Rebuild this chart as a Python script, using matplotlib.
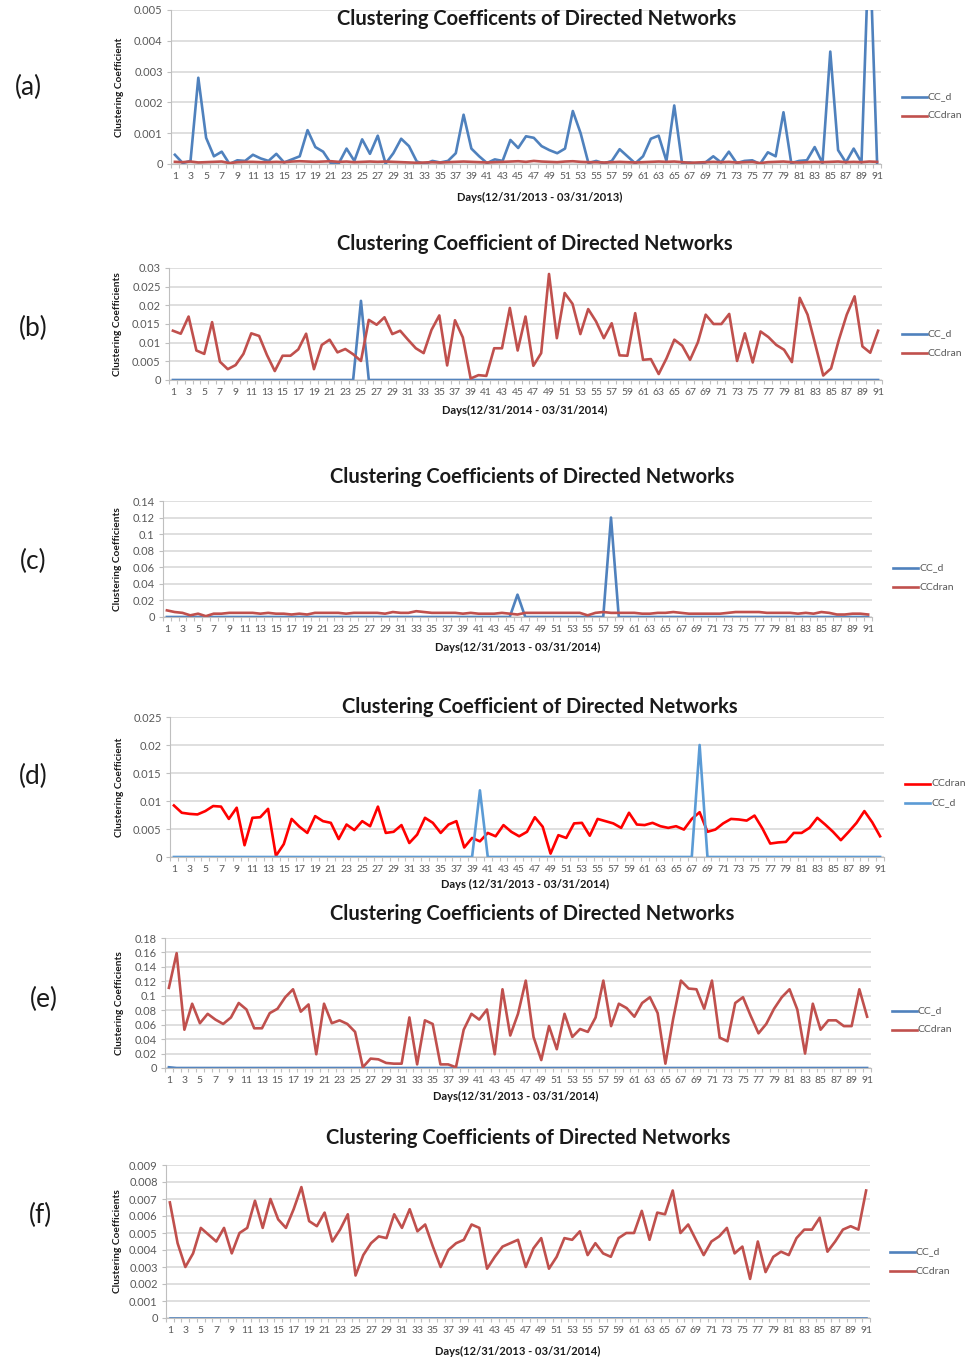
import matplotlib
matplotlib.use("Agg")
import matplotlib.pyplot as plt
from matplotlib.lines import Line2D
from matplotlib.ticker import FixedLocator, FuncFormatter

plt.rcParams['font.family'] = ['Lato', 'DejaVu Sans']

days = list(range(1, 92))
odd_days = list(range(1, 92, 2))

# ---- panel (a): 12/31/2013 - 03/31/2013 ----
a_cc_d = [0.0003, 0.00003, 0.0001, 0.0028, 0.00085, 0.00025, 0.0004, 0.0, 0.00012, 0.0001,
          0.0003, 0.00018, 0.0001, 0.00033, 0.00005, 0.00015, 0.00025, 0.0011, 0.00055, 0.0004,
          0.00002, 0.00002, 0.0005, 0.0001, 0.0008, 0.00033, 0.00092, 0.00001, 0.00035, 0.00082,
          0.00058, 0.00008, 0.0, 0.0001, 0.00005, 0.0001, 0.00035, 0.0016, 0.0005, 0.00025,
          0.00003, 0.00015, 0.0001, 0.00078, 0.00052, 0.0009, 0.00085, 0.00058, 0.00045, 0.00035,
          0.0005, 0.00172, 0.001, 0.00003, 0.0001, 0.00002, 0.0001, 0.00048, 0.00025, 0.00002,
          0.00025, 0.00082, 0.00092, 0.0001, 0.0019, 0.00003, 0.00005, 0.0, 0.00005, 0.00025,
          0.00005, 0.0004, 0.00003, 0.0001, 0.00012, 0.0, 0.00038, 0.00025, 0.00168, 0.00003,
          0.0001, 0.00012, 0.00055, 0.00003, 0.00365, 0.00045, 0.00005, 0.0005, 0.00005, 0.0075,
          0.00003]
a_ccdran = [0.00007, 0.00006, 0.00008, 0.00005, 0.00006, 0.00007, 0.00008, 0.00003, 0.00006, 0.00007,
            0.00007, 0.00006, 0.00006, 0.00007, 0.00006, 0.00008, 0.00009, 0.00008, 0.00007, 0.00008,
            0.00009, 0.00007, 0.00008, 0.00006, 0.00007, 0.00008, 0.00007, 0.00008, 0.00007, 0.00006,
            0.00005, 0.00004, 0.00005, 0.00006, 0.00005, 0.00006, 0.00007, 0.00008, 0.00007, 0.00006,
            0.00005, 0.00006, 0.00007, 0.00008, 0.00009, 0.00007, 0.0001, 0.00008, 0.00007, 0.00006,
            0.00008, 0.00009, 0.00007, 0.00006, 0.00006, 0.00005, 0.00006, 0.00007, 0.00006, 0.00005,
            0.00006, 0.00007, 0.00008, 0.00007, 0.00008, 0.00006, 0.00004, 0.00005, 0.00006, 0.00007,
            0.00006, 0.00007, 0.00005, 0.00006, 0.00007, 0.00003, 0.00006, 0.00007, 0.00008, 0.00006,
            0.00005, 0.00006, 0.00007, 0.00006, 0.00007, 0.00008, 0.00006, 0.00007, 0.00006, 0.00008,
            0.00007]
a_yticks = [0, 0.001, 0.002, 0.003, 0.004, 0.005]

# ---- panel (b): 12/31/2014 - 03/31/2014 ----
b_cc_d = [0.0, 0.0, 0.0, 0.0, 0.0, 0.0, 0.0, 0.0, 0.0, 0.0,
          0.0, 0.0, 0.0, 0.0, 0.0, 0.0, 0.0, 0.0, 0.0, 0.0,
          0.0, 0.0, 0.0, 0.0, 0.0212, 0.0, 0.0, 0.0, 0.0, 0.0,
          0.0, 0.0, 0.0, 0.0, 0.0, 0.0, 0.0, 0.0, 0.0, 0.0,
          0.0, 0.0, 0.0, 0.0, 0.0, 0.0, 0.0, 0.0, 0.0, 0.0,
          0.0, 0.0, 0.0, 0.0, 0.0, 0.0, 0.0, 0.0, 0.0, 0.0,
          0.0, 0.0, 0.0, 0.0, 0.0, 0.0, 0.0, 0.0, 0.0, 0.0,
          0.0, 0.0, 0.0, 0.0, 0.0, 0.0, 0.0, 0.0, 0.0, 0.0,
          0.0, 0.0, 0.0, 0.0, 0.0, 0.0, 0.0, 0.0, 0.0, 0.0,
          0.0]
b_ccdran = [0.0132, 0.0124, 0.017, 0.0079, 0.007, 0.0155, 0.0049, 0.0029, 0.004, 0.007,
            0.0125, 0.0118, 0.0067, 0.0024, 0.0065, 0.0065, 0.0082, 0.0124, 0.0029, 0.0094,
            0.0108, 0.0074, 0.0083, 0.0069, 0.0051, 0.0161, 0.0148, 0.0168, 0.0123, 0.0132,
            0.0108, 0.0085, 0.0072, 0.0134, 0.0173, 0.0039, 0.016, 0.0114, 0.0004, 0.0013,
            0.0011, 0.0085, 0.0085, 0.0193, 0.0079, 0.017, 0.0038, 0.0072, 0.0284, 0.0112,
            0.0233, 0.0204, 0.0123, 0.019, 0.0157, 0.0112, 0.0152, 0.0066, 0.0065, 0.0179,
            0.0054, 0.0056, 0.0016, 0.0058, 0.0108, 0.0092, 0.0054, 0.0101, 0.0175, 0.015,
            0.015, 0.0177, 0.0051, 0.0125, 0.0047, 0.013, 0.0115, 0.0094, 0.0081, 0.0048,
            0.022, 0.0175, 0.0094, 0.0012, 0.0031, 0.0108, 0.0175, 0.0224, 0.009, 0.0073,
            0.0132]
b_yticks = [0, 0.005, 0.01, 0.015, 0.02, 0.025, 0.03]

# ---- panel (c) ----
c_cc_d = [0.0, 0.0, 0.0, 0.0, 0.0, 0.0, 0.0, 0.0, 0.0, 0.0,
          0.0, 0.0, 0.0, 0.0, 0.0, 0.0, 0.0, 0.0, 0.0, 0.0,
          0.0, 0.0, 0.0, 0.0, 0.0, 0.0, 0.0, 0.0, 0.0, 0.0,
          0.0, 0.0, 0.0, 0.0, 0.0, 0.0, 0.0, 0.0, 0.0, 0.0,
          0.0, 0.0, 0.0, 0.0, 0.0, 0.027, 0.0, 0.0, 0.0, 0.0,
          0.0, 0.0, 0.0, 0.0, 0.0, 0.0, 0.0, 0.12, 0.0, 0.0,
          0.0, 0.0, 0.0, 0.0, 0.0, 0.0, 0.0, 0.0, 0.0, 0.0,
          0.0, 0.0, 0.0, 0.0, 0.0, 0.0, 0.0, 0.0, 0.0, 0.0,
          0.0, 0.0, 0.0, 0.0, 0.0, 0.0, 0.0, 0.0, 0.0, 0.0,
          0.0]
c_ccdran = [0.008, 0.006, 0.005, 0.002, 0.004, 0.001, 0.004, 0.004, 0.005, 0.005,
            0.005, 0.005, 0.004, 0.005, 0.004, 0.004, 0.003, 0.004, 0.003, 0.005,
            0.005, 0.005, 0.005, 0.004, 0.005, 0.005, 0.005, 0.005, 0.004, 0.006,
            0.005, 0.005, 0.007, 0.006, 0.005, 0.005, 0.005, 0.005, 0.004, 0.005,
            0.004, 0.004, 0.004, 0.005, 0.004, 0.003, 0.005, 0.005, 0.005, 0.005,
            0.005, 0.005, 0.005, 0.005, 0.002, 0.005, 0.006, 0.005, 0.005, 0.005,
            0.005, 0.004, 0.004, 0.005, 0.005, 0.006, 0.005, 0.004, 0.004, 0.004,
            0.004, 0.004, 0.005, 0.006, 0.006, 0.006, 0.006, 0.005, 0.005, 0.005,
            0.005, 0.004, 0.005, 0.004, 0.006, 0.005, 0.003, 0.003, 0.004, 0.004,
            0.003]
c_yticks = [0, 0.02, 0.04, 0.06, 0.08, 0.1, 0.12, 0.14]

# ---- panel (d) ----
d_cc_d = [0.0, 0.0, 0.0, 0.0, 0.0, 0.0, 0.0, 0.0, 0.0, 0.0,
          0.0, 0.0, 0.0, 0.0, 0.0, 0.0, 0.0, 0.0, 0.0, 0.0,
          0.0, 0.0, 0.0, 0.0, 0.0, 0.0, 0.0, 0.0, 0.0, 0.0,
          0.0, 0.0, 0.0, 0.0, 0.0, 0.0, 0.0, 0.0, 0.0, 0.0119,
          0.0, 0.0, 0.0, 0.0, 0.0, 0.0, 0.0, 0.0, 0.0, 0.0,
          0.0, 0.0, 0.0, 0.0, 0.0, 0.0, 0.0, 0.0, 0.0, 0.0,
          0.0, 0.0, 0.0, 0.0, 0.0, 0.0, 0.0, 0.02, 0.0, 0.0,
          0.0, 0.0, 0.0, 0.0, 0.0, 0.0, 0.0, 0.0, 0.0, 0.0,
          0.0, 0.0, 0.0, 0.0, 0.0, 0.0, 0.0, 0.0, 0.0, 0.0,
          0.0]
d_ccdran = [0.0092, 0.0079, 0.0077, 0.0076, 0.0082, 0.0091, 0.009, 0.0068, 0.0088, 0.0021,
            0.007, 0.0071, 0.0086, 0.0002, 0.0023, 0.0068, 0.0054, 0.0043, 0.0073, 0.0064,
            0.0061, 0.0032, 0.0058, 0.0048, 0.0064, 0.0055, 0.009, 0.0043, 0.0045, 0.0057,
            0.0025, 0.004, 0.007, 0.0061, 0.0043, 0.0058, 0.0064, 0.0017, 0.0034, 0.0028,
            0.0043, 0.0037, 0.0057, 0.0045, 0.0037, 0.0045, 0.0071, 0.0054, 0.0006, 0.0039,
            0.0034, 0.006, 0.0061, 0.0038, 0.0068, 0.0064, 0.006, 0.0052, 0.0079, 0.0058,
            0.0057, 0.0061, 0.0055, 0.0052, 0.0055, 0.0049, 0.0068, 0.008, 0.0045, 0.0049,
            0.006, 0.0068, 0.0067, 0.0065, 0.0074, 0.0051, 0.0024, 0.0026, 0.0027, 0.0043,
            0.0043, 0.0052, 0.007, 0.0058, 0.0045, 0.003, 0.0045, 0.0061, 0.0082, 0.0062,
            0.0037]
d_yticks = [0, 0.005, 0.01, 0.015, 0.02, 0.025]

# ---- panel (e) ----
e_cc_d = [0.001, 0.0, 0.0, 0.0, 0.0, 0.0, 0.0, 0.0, 0.0, 0.0,
          0.0, 0.0, 0.0, 0.0, 0.0, 0.0, 0.0, 0.0, 0.0, 0.0,
          0.0, 0.0, 0.0, 0.0, 0.0, 0.0, 0.0, 0.0, 0.0, 0.0,
          0.0, 0.0, 0.0, 0.0, 0.0, 0.0, 0.0, 0.0, 0.0, 0.0,
          0.0, 0.0, 0.0, 0.0, 0.0, 0.0, 0.0, 0.0, 0.0, 0.0,
          0.0, 0.0, 0.0, 0.0, 0.0, 0.0, 0.0, 0.0, 0.0, 0.0,
          0.0, 0.0, 0.0, 0.0, 0.0, 0.0, 0.0, 0.0, 0.0, 0.0,
          0.0, 0.0, 0.0, 0.0, 0.0, 0.0, 0.0, 0.0, 0.0, 0.0,
          0.0, 0.0, 0.0, 0.0, 0.0, 0.0, 0.0, 0.0, 0.0, 0.0,
          0.0]
e_ccdran = [0.111, 0.159, 0.053, 0.089, 0.062, 0.075, 0.067, 0.061, 0.07, 0.09,
            0.081, 0.055, 0.055, 0.076, 0.082, 0.098, 0.109, 0.078, 0.088, 0.019,
            0.089, 0.062, 0.066, 0.061, 0.05, 0.001, 0.013, 0.012, 0.007, 0.006,
            0.006, 0.07, 0.005, 0.066, 0.061, 0.005, 0.005, 0.001, 0.053, 0.075,
            0.067, 0.081, 0.019, 0.109, 0.045, 0.075, 0.121, 0.043, 0.011, 0.058,
            0.026, 0.075, 0.043, 0.054, 0.05, 0.07, 0.121, 0.058, 0.089, 0.083,
            0.071, 0.09, 0.098, 0.076, 0.006, 0.068, 0.121, 0.11, 0.109, 0.082,
            0.121, 0.042, 0.037, 0.09, 0.098, 0.072, 0.048, 0.061, 0.082, 0.098,
            0.109, 0.081, 0.02, 0.089, 0.053, 0.066, 0.066, 0.058, 0.058, 0.109,
            0.071]
e_yticks = [0, 0.02, 0.04, 0.06, 0.08, 0.1, 0.12, 0.14, 0.16, 0.18]

# ---- panel (f) ----
f_cc_d = [0.0, 0.0, 0.0, 0.0, 0.0, 0.0, 0.0, 0.0, 0.0, 0.0,
          0.0, 0.0, 0.0, 0.0, 0.0, 0.0, 0.0, 0.0, 0.0, 0.0,
          0.0, 0.0, 0.0, 0.0, 0.0, 0.0, 0.0, 0.0, 0.0, 0.0,
          0.0, 0.0, 0.0, 0.0, 0.0, 0.0, 0.0, 0.0, 0.0, 0.0,
          0.0, 0.0, 0.0, 0.0, 0.0, 0.0, 0.0, 0.0, 0.0, 0.0,
          0.0, 0.0, 0.0, 0.0, 0.0, 0.0, 0.0, 0.0, 0.0, 0.0,
          0.0, 0.0, 0.0, 0.0, 0.0, 0.0, 0.0, 0.0, 0.0, 0.0,
          0.0, 0.0, 0.0, 0.0, 0.0, 0.0, 0.0, 0.0, 0.0, 0.0,
          0.0, 0.0, 0.0, 0.0, 0.0, 0.0, 0.0, 0.0, 0.0, 0.0,
          0.0]
f_ccdran = [0.0068, 0.0044, 0.003, 0.0038, 0.0053, 0.0049, 0.0045, 0.0053, 0.0038, 0.005,
            0.0053, 0.0069, 0.0053, 0.007, 0.0058, 0.0053, 0.0064, 0.0077, 0.0057, 0.0054,
            0.0062, 0.0045, 0.0052, 0.0061, 0.0025, 0.0037, 0.0044, 0.0048, 0.0047, 0.0061,
            0.0053, 0.0064, 0.0051, 0.0055, 0.0042, 0.003, 0.004, 0.0044, 0.0046, 0.0055,
            0.0053, 0.0029, 0.0036, 0.0042, 0.0044, 0.0046, 0.003, 0.0041, 0.0047, 0.0029,
            0.0036, 0.0047, 0.0046, 0.0051, 0.0037, 0.0044, 0.0038, 0.0036, 0.0047, 0.005,
            0.005, 0.0063, 0.0046, 0.0062, 0.0061, 0.0075, 0.005, 0.0055, 0.0046, 0.0037,
            0.0045, 0.0048, 0.0053, 0.0038, 0.0042, 0.0023, 0.0045, 0.0027, 0.0036, 0.0039,
            0.0037, 0.0047, 0.0052, 0.0052, 0.0059, 0.0039, 0.0045, 0.0052, 0.0054, 0.0052,
            0.0075]
f_yticks = [0, 0.001, 0.002, 0.003, 0.004, 0.005, 0.006, 0.007, 0.008, 0.009]

BLUE = '#4F81BD'
RED = '#C0504D'
GRID = '#D9D9D9'
TXT = '#595959'

W, H = 967, 1359
fig = plt.figure(figsize=(W / 100, H / 100), dpi=100)


def fx(x):
    return x / W


def fy(y):
    return 1 - y / H


panels = [
    dict(letter='(a)', lpos=(28, 87), box=(171, 10, 881, 164),
         title='Clustering Coefficents of Directed Networks', tpos=(537, 19),
         ylabel='Clustering Coefficient', ylx=120,
         xlabel='Days(12/31/2013 - 03/31/2013)', xpos=(540, 197),
         ymax=0.005, yticks=a_yticks, leg=(902, 97),
         series=[('CC_d', a_cc_d, BLUE), ('CCdran', a_ccdran, RED)]),
    dict(letter='(b)', lpos=(33, 328), box=(169, 268, 882, 380),
         title='Clustering Coefficient of Directed Networks', tpos=(535, 244),
         ylabel='Clustering Coefficients', ylx=118,
         xlabel='Days(12/31/2014 - 03/31/2014)', xpos=(525, 410),
         ymax=0.03, yticks=b_yticks, leg=(902, 334),
         series=[('CC_d', b_cc_d, BLUE), ('CCdran', b_ccdran, RED)]),
    dict(letter='(c)', lpos=(33, 561), box=(163, 501, 872, 617),
         title='Clustering Coefficients of Directed Networks', tpos=(532, 477),
         ylabel='Clustering Coefficients', ylx=118,
         xlabel='Days(12/31/2013 - 03/31/2014)', xpos=(518, 647),
         ymax=0.14, yticks=c_yticks, leg=(893, 568),
         series=[('CC_d', c_cc_d, BLUE), ('CCdran', c_ccdran, RED)]),
    dict(letter='(d)', lpos=(33, 776), box=(170, 717, 884, 857),
         title='Clustering Coefficient of Directed Networks', tpos=(540, 707),
         ylabel='Clustering Coefficient', ylx=120,
         xlabel='Days (12/31/2013 - 03/31/2014)', xpos=(525, 884),
         ymax=0.025, yticks=d_yticks, leg=(905, 784),
         series=[('CCdran', d_ccdran, '#FF0000'), ('CC_d', d_cc_d, '#5B9BD5')]),
    dict(letter='(e)', lpos=(44, 999), box=(165, 938, 871, 1068),
         title='Clustering Coefficients of Directed Networks', tpos=(532, 914),
         ylabel='Clustering Coefficients', ylx=120,
         xlabel='Days(12/31/2013 - 03/31/2014)', xpos=(516, 1096),
         ymax=0.18, yticks=e_yticks, leg=(892, 1011),
         series=[('CC_d', e_cc_d, BLUE), ('CCdran', e_ccdran, RED)]),
    dict(letter='(f)', lpos=(40, 1215), box=(166, 1165, 870, 1318),
         title='Clustering Coefficients of Directed Networks', tpos=(528, 1138),
         ylabel='Clustering Coefficients', ylx=117,
         xlabel='Days(12/31/2013 - 03/31/2014)', xpos=(518, 1351),
         ymax=0.009, yticks=f_yticks, leg=(890, 1252),
         series=[('CC_d', f_cc_d, BLUE), ('CCdran', f_ccdran, RED)]),
]

for p in panels:
    l, t, r, b = p['box']
    ax = fig.add_axes([fx(l), fy(b), (r - l) / W, (b - t) / H])
    for name, vals, col in p['series']:
        ax.plot(days, vals, color=col, lw=1.9, solid_joinstyle='round')
    ax.set_xlim(0.5, 91.5)
    ax.set_ylim(0, p['ymax'])
    ax.set_yticks(p['yticks'])
    ax.yaxis.set_major_formatter(FuncFormatter(lambda v, pos: f"{round(v, 6):g}"))
    ax.set_xticks(odd_days)
    ax.set_xticklabels([str(d) for d in odd_days])
    ax.xaxis.set_minor_locator(FixedLocator([d + 0.5 for d in range(0, 92)]))
    ax.tick_params(axis='x', which='major', length=0, labelsize=7.5, labelcolor=TXT, pad=6)
    ax.tick_params(axis='x', which='minor', length=3, color='#BFBFBF', width=0.8)
    ax.tick_params(axis='y', length=3, color='#BFBFBF', labelsize=8, labelcolor=TXT, pad=3)
    ax.grid(axis='y', color=GRID, lw=1.2)
    ax.set_axisbelow(True)
    for s in ['top', 'right']:
        ax.spines[s].set_visible(False)
    ax.spines['left'].set_color('#BFBFBF')
    ax.spines['bottom'].set_color('#BFBFBF')

    fig.text(fx(p['tpos'][0]), fy(p['tpos'][1]), p['title'], ha='center', va='center',
             fontsize=14.5, fontweight='bold', color='#1a1a1a')
    fig.text(fx(p['ylx']), fy((t + b) / 2), p['ylabel'], ha='center', va='center',
             rotation=90, fontsize=7.3, fontweight='bold', color='#1a1a1a')
    fig.text(fx(p['xpos'][0]), fy(p['xpos'][1]), p['xlabel'], ha='center', va='center',
             fontsize=8, fontweight='bold', color='#1a1a1a')
    fig.text(fx(p['lpos'][0]), fy(p['lpos'][1]), p['letter'], ha='center', va='center',
             fontsize=19, color='#1a1a1a')

    lx, ly = p['leg']
    for i, (name, vals, col) in enumerate(p['series']):
        yy = ly + i * 19
        fig.add_artist(Line2D([fx(lx), fx(lx + 25)], [fy(yy), fy(yy)], color=col, lw=1.9,
                              transform=fig.transFigure))
        fig.text(fx(lx + 26), fy(yy), name, ha='left', va='center', fontsize=7.5, color=TXT)

fig.savefig('out.png', dpi=100)
